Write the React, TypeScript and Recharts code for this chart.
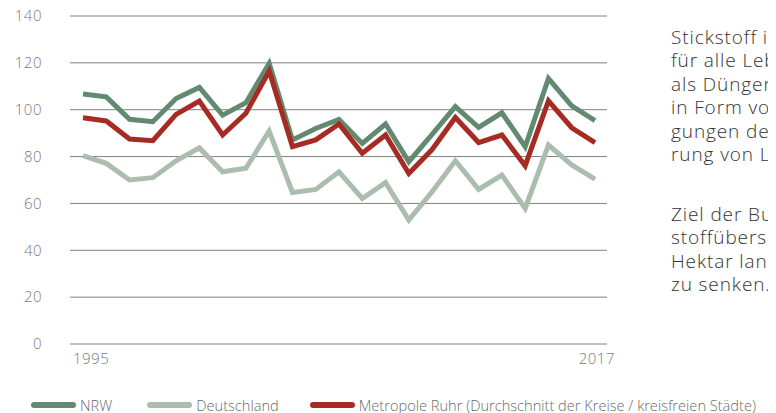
import React from "react";
import { CartesianGrid, Line, LineChart, XAxis, YAxis } from "recharts";

const years: string[] = [
  "1995", "1996", "1997", "1998", "1999", "2000", "2001", "2002",
  "2003", "2004", "2005", "2006", "2007", "2008", "2009", "2010",
  "2011", "2012", "2013", "2014", "2015", "2016", "2017",
];

const nrw: number[] = [
  106.7, 105.5, 95.9, 94.9, 104.8, 109.5, 97.7, 103, 119.8, 87.1, 92, 95.9,
  85.6, 93.9, 77.8, 89.5, 101.3, 92.5, 98.7, 84.2, 113.3, 101.6, 95.3,
];

const deutschland: number[] = [
  80.4, 77.1, 70, 71, 78.2, 83.7, 73.5, 75, 90.9, 64.7, 66, 73.5, 62.1, 68.9,
  52.9, 65, 78.2, 66, 72.1, 57.9, 84.9, 76.4, 70.4,
];

const ruhr: number[] = [
  96.6, 95.2, 87.5, 86.8, 98, 103.7, 89.2, 98.5, 116.5, 84.2, 87.1, 93.9,
  81.4, 89.2, 72.8, 83, 96.7, 86, 89.2, 76.1, 103.8, 92.3, 86,
];

const yTicks = [0, 20, 40, 60, 80, 100, 120, 140];
const xTicks = ["1995", "2017"];

const series = [
  { key: "nrw", name: "NRW", color: "#628a70" },
  { key: "deutschland", name: "Deutschland", color: "#aabdaf" },
  {
    key: "ruhr",
    name: "Metropole Ruhr (Durchschnitt der Kreise / kreisfreien Städte)",
    color: "#a52b23",
  },
];

// text beside the chart, cut off at the right edge like in the original
const sideText = [
  ["Stickstoff i", "für alle Leb", "als Dünger", "in Form vo", "gungen de", "rung von L"],
  ["Ziel der Bu", "stoffübersc", "Hektar land", "zu senken."],
];

const data = years.map((year, i) => ({
  year,
  nrw: nrw[i],
  deutschland: deutschland[i],
  ruhr: ruhr[i],
}));

const FONT = "'Open Sans', sans-serif";

const YearTick = (props: any) => {
  const { x, y, payload } = props;
  const first = payload.value === xTicks[0];
  return (
    <text
      x={first ? x - 10 : x + 20}
      y={y + 8}
      textAnchor={first ? "start" : "end"}
      fill="#7a7a7a"
      fontSize={15}
      fontFamily={FONT}
      fontWeight={300}
      letterSpacing={0.5}
      dominantBaseline="middle"
    >
      {payload.value}
    </text>
  );
};

export default function App() {
  return (
    <div
      style={{
        position: "relative",
        width: 776,
        height: 413,
        margin: "-8px 0 0 -8px",
        overflow: "hidden",
        background: "#fff",
        fontFamily: FONT,
      }}
    >
      <div style={{ position: "absolute", left: 0, top: 0 }}>
        <LineChart
          width={620}
          height={380}
          data={data}
          margin={{ top: 16, right: 13, bottom: 6, left: 0 }}
        >
          <CartesianGrid vertical={false} stroke="#808080" strokeWidth={1} />
          <XAxis
            dataKey="year"
            ticks={xTicks}
            interval={0}
            axisLine={false}
            tickLine={false}
            padding={{ left: 13, right: 12 }}
            height={30}
            tick={<YearTick />}
          />
          <YAxis
            domain={[0, 140]}
            ticks={yTicks}
            width={70}
            axisLine={false}
            tickLine={false}
            tickMargin={22}
            tick={{ fill: "#7a7a7a", fontSize: 15, fontFamily: FONT, fontWeight: 300, letterSpacing: 0.5 }}
          />
          <Line dataKey="deutschland" stroke="#aabdaf" strokeWidth={5} dot={false} isAnimationActive={false} />
          <Line dataKey="nrw" stroke="#628a70" strokeWidth={5} dot={false} isAnimationActive={false} />
          <Line dataKey="ruhr" stroke="#a52b23" strokeWidth={5} dot={false} isAnimationActive={false} />
        </LineChart>
      </div>

      {sideText.map((para, p) => (
        <div
          key={p}
          style={{
            position: "absolute",
            left: 671,
            top: p === 0 ? 26 : 203,
            fontSize: 19,
            lineHeight: "23.4px",
            letterSpacing: 0.9,
            color: "#333",
            fontWeight: 300,
            whiteSpace: "nowrap",
          }}
        >
          {para.map((line, i) => (
            <div key={i}>{line}</div>
          ))}
        </div>
      ))}

      <div
        style={{
          position: "absolute",
          left: 31,
          top: 395,
          display: "flex",
          alignItems: "center",
          whiteSpace: "nowrap",
          fontSize: 14.6,
          color: "#6a6a6a",
          fontWeight: 300,
        }}
      >
        {series.map((s, i) => (
          <div key={s.key} style={{ display: "flex", alignItems: "center", marginRight: i === 0 ? 35 : 31 }}>
            <span
              style={{
                display: "inline-block",
                width: 45,
                height: 6,
                borderRadius: 3,
                background: s.color,
                marginRight: 4,
              }}
            />
            <span>{s.name}</span>
          </div>
        ))}
      </div>
    </div>
  );
}
